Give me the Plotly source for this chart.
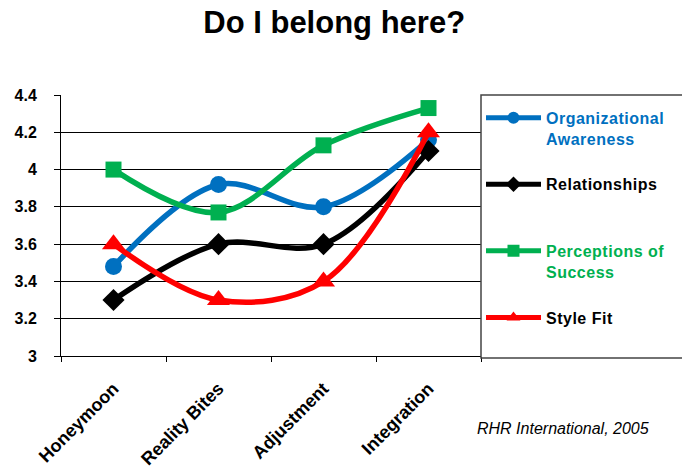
import plotly.graph_objects as go

stages = ["Honeymoon", "Reality Bites", "Adjustment", "Integration"]
org_awareness = [3.48, 3.92, 3.80, 4.16]
relationships = [3.30, 3.60, 3.60, 4.10]
perceptions = [4.00, 3.77, 4.13, 4.33]
style_fit = [3.60, 3.30, 3.40, 4.20]
y_ticks = [3, 3.2, 3.4, 3.6, 3.8, 4, 4.2, 4.4]
y_tick_text = ["3", "3.2", "3.4", "3.6", "3.8", "4", "4.2", "4.4"]

FONT = "Liberation Sans, Arial, sans-serif"

# name, values, line colour, legend text colour, marker symbol, marker size
series = [
    ("Organizational<br>Awareness", org_awareness, "#0070C0", "#0070C0", "circle", 17),
    ("Relationships<br> ", relationships, "#000000", "#000000", "diamond", 17),
    ("Perceptions of<br>Success", perceptions, "#00B050", "#00B050", "square", 16),
    ("Style Fit<br> ", style_fit, "#FF0000", "#000000", "triangle-up", 20),
]

fig = go.Figure()
for i, (name, vals, color, text_color, symbol, size) in enumerate(series):
    fig.add_trace(go.Scatter(
        x=stages, y=vals, mode="lines+markers",
        name=f'<span style="color:{text_color};letter-spacing:0.5px"><b>{name}</b></span>',
        legendgroup=f"g{i}",
        line=dict(color=color, width=5.5, shape="spline", smoothing=1.0),
        marker=dict(symbol=symbol, size=size, color=color),
    ))

fig.update_layout(
    width=682, height=470,
    margin=dict(l=61, r=201, t=95, b=114),
    paper_bgcolor="white", plot_bgcolor="white",
    font=dict(family=FONT, color="black"),
    title=dict(text="<b>Do I belong here?</b>", x=0.49, xanchor="center",
               y=0.952, yanchor="middle", xref="container", yref="container",
               font=dict(size=31, family=FONT, color="black")),
    showlegend=True,
    legend=dict(x=1.0, xanchor="left", y=0.978, yanchor="top",
                font=dict(size=16, family=FONT),
                tracegroupgap=22, valign="top", itemsizing="constant",
                bgcolor="rgba(0,0,0,0)", borderwidth=0,
                itemwidth=55),
    xaxis=dict(type="category", tickson="boundaries", ticks="outside",
               ticklen=5, tickcolor="black", showgrid=False,
               showline=True, linecolor="black", linewidth=1,
               tickangle=-45, tickfont=dict(size=18, family=FONT, color="black"),
               ticklabelstandoff=14, automargin=False,
               tickvals=stages, ticktext=[f"<b>{s}</b>" for s in stages],
               range=[-0.5, 3.5]),
    yaxis=dict(range=[3, 4.4], tickvals=y_ticks,
               ticktext=[f"<b>{t}</b>" for t in y_tick_text],
               ticks="outside", ticklen=6, tickcolor="black",
               ticklabelstandoff=14, automargin=False,
               showgrid=True, gridcolor="black", gridwidth=1,
               showline=True, linecolor="black", linewidth=1,
               tickfont=dict(size=16, family=FONT, color="black"),
               zeroline=False),
)

# legend frame
fig.add_shape(type="rect", xref="paper", yref="paper",
              x0=1.0, x1=1.6, y0=-0.008, y1=1.0,
              line=dict(color="#444444", width=1.5), fillcolor="rgba(0,0,0,0)")

fig.add_annotation(text="<i>RHR International, 2005</i>", xref="paper", yref="paper",
                   x=1.195, y=-0.276, xanchor="center", yanchor="middle",
                   showarrow=False, font=dict(size=16, family=FONT, color="black"))

fig.write_html("out.html")
